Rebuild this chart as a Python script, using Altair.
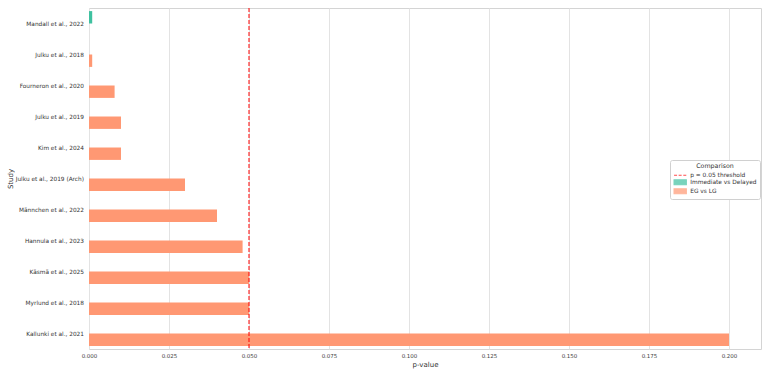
import altair as alt
import pandas as pd

studies = [
    "Mandall et al., 2022",
    "Julku et al., 2018",
    "Fourneron et al., 2020",
    "Julku et al., 2019",
    "Kim et al., 2024",
    "Julku et al., 2019 (Arch)",
    "Männchen et al., 2022",
    "Hannula et al., 2023",
    "Käsmä et al., 2025",
    "Myrlund et al., 2018",
    "Kallunki et al., 2021",
]
comparisons = [
    "Immediate vs Delayed",
    "EG vs LG", "EG vs LG", "EG vs LG", "EG vs LG", "EG vs LG",
    "EG vs LG", "EG vs LG", "EG vs LG", "EG vs LG", "EG vs LG",
]
p_values = [0.001, 0.001, 0.008, 0.01, 0.01, 0.03, 0.04, 0.048, 0.05, 0.05, 0.2]

threshold_label = "p = 0.05 threshold"
threshold = 0.05

legend_items = [threshold_label, "Immediate vs Delayed", "EG vs LG"]
legend_colors = ["#ff0000", "#3fc1a0", "#ff9873"]
hue_order = ["Immediate vs Delayed", "EG vs LG"]
x_ticks = [0.0, 0.025, 0.05, 0.075, 0.1, 0.125, 0.15, 0.175, 0.2]

df_bars = pd.DataFrame({"Study": studies, "Comparison": comparisons, "p": p_values})
df_thr = pd.DataFrame({"Comparison": [threshold_label], "p": [threshold]})

FONT = "DejaVu Sans"
rect_path = "M-2.05,-0.83H2.05V0.83H-2.05Z"
dash_path = "M-2.05,0H-1.05M-0.52,0H0.48M1.03,0H2.03"

leg = alt.Legend(
    title="Comparison",
    orient="none",
    legendX=581,
    legendY=152,
    symbolSize=36,
    symbolStrokeWidth=1.1,
    symbolOffset=3.2,
    labelFontSize=5.9,
    labelFont=FONT,
    labelColor="#333333",
    labelOffset=6,
    titleFontSize=6.3,
    titleFont=FONT,
    titleFontWeight="normal",
    titleColor="#333333",
    titleAnchor="middle",
    titleAlign="center",
    titlePadding=2,
    rowPadding=-1.3,
    padding=3,
    fillColor="white",
    strokeColor="#d0d0d0",
    cornerRadius=2,
)

fill_scale = alt.Scale(domain=legend_items, range=legend_colors)
stroke_scale = alt.Scale(domain=legend_items, range=legend_colors)
shape_scale = alt.Scale(domain=legend_items, range=[dash_path, rect_path, rect_path])

x_enc = alt.X(
    "p:Q",
    scale=alt.Scale(domain=[0, 0.21], nice=False, zero=False),
    axis=alt.Axis(
        values=x_ticks,
        format=".3f",
        title="p-value",
        labelFontSize=5.5,
        labelFont=FONT,
        labelColor="#444444",
        labelPadding=4,
        labelFlush=False,
        tickSize=0,
        domain=False,
        grid=True,
        gridColor="#e3e3e3",
        gridWidth=1,
        titleFontSize=7,
        titleFont=FONT,
        titleFontWeight="normal",
        titleColor="#333333",
        titlePadding=1.5,
    ),
)

bars = alt.Chart(df_bars).mark_bar().encode(
    x=x_enc,
    y=alt.Y(
        "Study:N",
        sort=studies,
        scale=alt.Scale(paddingInner=0, paddingOuter=0),
        axis=alt.Axis(
            title="Study",
            labelFontSize=5.8,
            labelFont=FONT,
            labelColor="#333333",
            labelPadding=5.5,
            tickSize=0,
            domain=False,
            grid=False,
            titleFontSize=7,
            titleFont=FONT,
            titleFontWeight="normal",
            titleColor="#333333",
            titlePadding=2,
        ),
    ),
    yOffset=alt.YOffset(
        "Comparison:N",
        scale=alt.Scale(domain=hue_order, paddingInner=0, paddingOuter=0.25),
    ),
    fill=alt.Fill("Comparison:N", scale=fill_scale, legend=leg),
)

rule = alt.Chart(df_thr).mark_rule(strokeDash=[4, 2], strokeWidth=1).encode(
    x=alt.X("p:Q"),
    stroke=alt.Stroke("Comparison:N", scale=stroke_scale, legend=leg),
)

ghost = alt.Chart(df_thr).transform_filter("false").mark_point(filled=True).encode(
    x=alt.X("p:Q"),
    shape=alt.Shape("Comparison:N", scale=shape_scale, legend=leg),
    fill=alt.Fill("Comparison:N", scale=fill_scale, legend=leg),
    stroke=alt.Stroke("Comparison:N", scale=stroke_scale, legend=leg),
)

chart = (
    alt.layer(bars, rule, ghost)
    .properties(
        width=672,
        height=341,
        autosize=alt.AutoSizeParams(type="none"),
        padding={"left": 89, "top": 8, "right": 6, "bottom": 26},
        background="white",
    )
    .configure_view(stroke="#d4d4d4", strokeWidth=1)
)

chart.save("out.html", embed_options={"renderer": "svg", "actions": False})
